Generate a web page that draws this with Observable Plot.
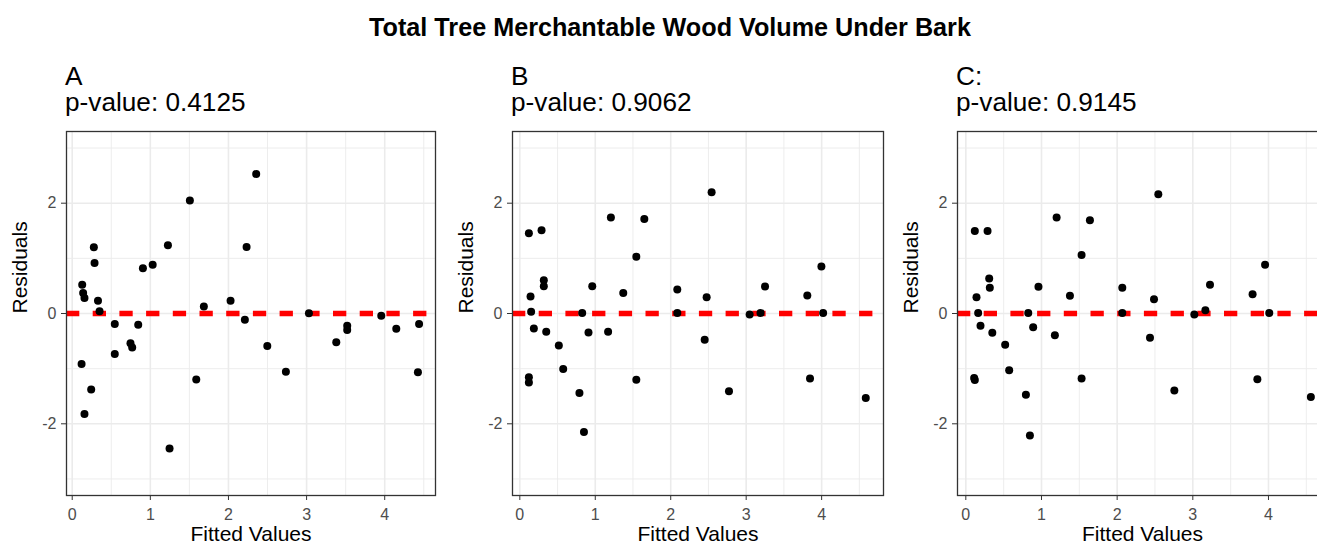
<!DOCTYPE html>
<html>
<head>
<meta charset="utf-8">
<script src="https://cdn.jsdelivr.net/npm/d3@7"></script>
<script src="https://cdn.jsdelivr.net/npm/@observablehq/plot@0.6"></script>
<style>
  html, body { margin: 0; padding: 0; width: 1317px; height: 550px; overflow: hidden; background: #ffffff; }
  #root { position: relative; width: 1317px; height: 550px; overflow: hidden; font-family: "Liberation Sans", Arial, sans-serif; }
  .title { position: absolute; left: 0; top: 15px; width: 1340px; text-align: center; font-size: 25.2px; line-height: 25px; font-weight: bold; color: #000; }
  .ptitle { position: absolute; top: 63px; font-size: 26.2px; line-height: 26px; color: #000; white-space: pre; }
  .panel { position: absolute; top: 120px; height: 430px; }
  .panel svg { max-width: none !important; display: block; }
</style>
</head>
<body>
<div id="root">
  <div class="title">Total Tree Merchantable Wood Volume Under Bark</div>
</div>
<script>
// ---- Data ----
const chartTitle = "Total Tree Merchantable Wood Volume Under Bark";
const panelNames = ["A", "B", "C:"];
const pValues = ["0.4125", "0.9062", "0.9145"];
const xTicks = [0, 1, 2, 3, 4];
const yTicks = [-2, 0, 2];

const fittedA = [0.128,0.14,0.157,0.277,0.286,0.33,0.35,0.545,0.845,0.905,1.03,1.225,1.506,1.685,2.027,2.21,2.232,2.355,3.03,3.52,3.52,3.956,4.148,4.44,0.12,0.243,0.157,0.545,0.746,0.768,1.246,1.588,2.497,2.735,3.38,4.425];
const residA  = [0.52,0.37,0.28,1.2,0.915,0.23,0.04,-0.19,-0.205,0.82,0.885,1.236,2.05,0.127,0.23,-0.115,1.206,2.53,0.005,-0.22,-0.3,-0.042,-0.275,-0.19,-0.915,-1.376,-1.824,-0.733,-0.54,-0.618,-2.45,-1.195,-0.588,-1.055,-0.52,-1.067];

const fittedB = [0.12,0.288,0.142,0.15,0.318,0.318,0.186,0.35,0.827,0.96,0.91,1.17,1.207,1.371,1.544,1.65,2.087,2.087,2.476,2.542,3.046,3.19,3.25,3.81,3.997,4.02,0.12,0.12,0.517,0.575,0.79,0.85,1.544,2.45,2.772,3.846,4.585];
const residB  = [1.455,1.51,0.31,0.03,0.605,0.496,-0.27,-0.33,0.01,0.496,-0.345,-0.33,1.74,0.37,1.03,1.715,0.436,0.01,0.296,2.2,-0.02,0.01,0.49,0.327,0.85,0.01,-1.158,-1.25,-0.58,-1.006,-1.44,-2.15,-1.2,-0.474,-1.41,-1.18,-1.53];

const fittedC = [0.119,0.287,0.141,0.163,0.309,0.317,0.194,0.35,0.825,0.96,0.89,1.2,1.376,1.53,1.64,2.068,2.068,2.487,2.544,3.02,3.166,3.227,3.79,3.955,4.01,0.11,0.119,0.52,0.573,0.794,0.847,1.177,1.53,2.434,2.756,3.853,4.56];
const residC  = [1.496,1.496,0.296,0.01,0.636,0.466,-0.22,-0.35,0.01,0.485,-0.25,1.74,0.32,1.06,1.69,0.466,0.01,0.26,2.16,-0.02,0.06,0.52,0.35,0.885,0.01,-1.17,-1.207,-0.565,-1.03,-1.473,-2.21,-0.395,-1.18,-0.44,-1.395,-1.19,-1.515];

// ---- Layout ----
const panels = [
  {name: panelNames[0], p: pValues[0], fitted: fittedA, resid: residA, left: 0,   width: 445, xDomain: [-0.073, 4.65]},
  {name: panelNames[1], p: pValues[1], fitted: fittedB, resid: residB, left: 446, width: 447, xDomain: [-0.097, 4.82]},
  {name: panelNames[2], p: pValues[2], fitted: fittedC, resid: residC, left: 891, width: 446, xDomain: [-0.11, 4.78]}
];

const root = document.getElementById("root");
const font = '"Liberation Sans", Arial, sans-serif';

for (const pn of panels) {
  const data = pn.fitted.map((f, i) => ({fitted: f, resid: pn.resid[i]}));
  const minorX = [0.5, 1.5, 2.5, 3.5, 4.5];
  const minorY = [-3, -1, 1, 3];
  const svg = Plot.plot({
    width: pn.width,
    height: 430,
    marginLeft: 66,
    marginRight: 10,
    marginTop: 11,
    marginBottom: 55,
    style: {fontFamily: font, fontSize: "16px", background: "transparent", overflow: "visible", maxWidth: "none"},
    x: {domain: pn.xDomain},
    y: {domain: [-3.3, 3.3]},
    marks: [
      Plot.gridX(minorX, {stroke: "#ebebeb", strokeOpacity: 1, strokeWidth: 0.9}),
      Plot.gridY(minorY, {stroke: "#ebebeb", strokeOpacity: 1, strokeWidth: 0.9}),
      Plot.gridX(xTicks, {stroke: "#ebebeb", strokeOpacity: 1, strokeWidth: 1.6}),
      Plot.gridY(yTicks, {stroke: "#ebebeb", strokeOpacity: 1, strokeWidth: 1.6}),
      Plot.ruleY([0], {stroke: "#ff0000", strokeWidth: 5.5, strokeDasharray: "13.3,13.4"}),
      Plot.dot(data, {x: "fitted", y: "resid", r: 4, fill: "#000000", stroke: null}),
      Plot.frame({stroke: "#333333", strokeWidth: 1.3}),
      Plot.axisX(xTicks, {label: null, tickSize: 5, tickPadding: 8, stroke: "#333333", fill: "#4d4d4d", fontSize: 16, tickFormat: d => String(d)}),
      Plot.axisY(yTicks, {label: null, tickSize: 5, tickPadding: 5, stroke: "#333333", fill: "#4d4d4d", fontSize: 16, tickFormat: d => String(d)}),
      Plot.text(["Fitted Values"], {frameAnchor: "bottom", dy: 45, fontSize: 21, fill: "#000000"}),
      Plot.text(["Residuals"], {frameAnchor: "left", dx: -46, rotate: -90, fontSize: 21, fill: "#000000"})
    ]
  });
  const wrap = document.createElement("div");
  wrap.className = "panel";
  wrap.style.left = pn.left + "px";
  wrap.style.width = pn.width + "px";
  wrap.appendChild(svg);
  root.appendChild(wrap);

  const t = document.createElement("div");
  t.className = "ptitle";
  t.style.left = (pn.left + 65) + "px";
  t.textContent = pn.name + "\np-value: " + pn.p;
  root.appendChild(t);
}
</script>
</body>
</html>
